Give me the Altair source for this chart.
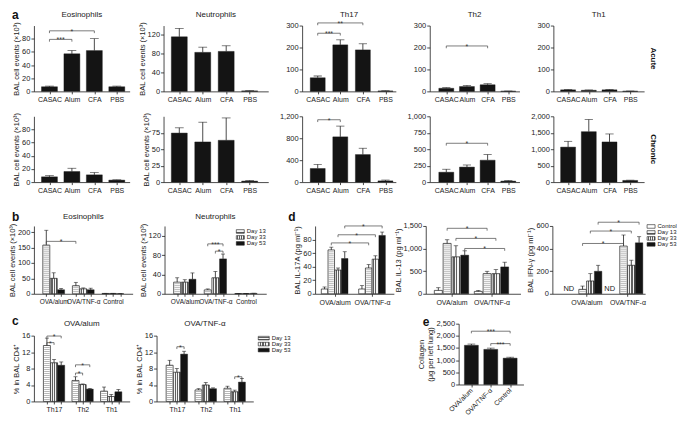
import json
import altair as alt
import pandas as pd

FONT = "Liberation Sans"
INK = "#1e1e1e"
BLACK = "#141414"
TXT = "#222222"

# ---------------- data ----------------
A_CATS = ["CASAC", "Alum", "CFA", "PBS"]

ACUTE_EOS, ACUTE_EOS_ERR = [7, 57, 62, 7], [1, 5, 18, 1]
ACUTE_NEU, ACUTE_NEU_ERR = [116, 83, 85, 1], [18, 11, 12, 0.5]
ACUTE_TH17, ACUTE_TH17_ERR = [62, 212, 189, 2], [8, 23, 28, 1]
ACUTE_TH2, ACUTE_TH2_ERR = [14, 22, 30, 1], [3, 5, 5, 0.5]
ACUTE_TH1, ACUTE_TH1_ERR = [7, 5, 7, 1], [1.5, 1.5, 1.5, 0.5]

CHRON_EOS, CHRON_EOS_ERR = [8, 16, 11, 3], [1.8, 5, 3.5, 0.5]
CHRON_NEU, CHRON_NEU_ERR = [74.5, 61, 63.5, 1.5], [8, 30, 34, 1]
CHRON_TH17, CHRON_TH17_ERR = [248, 825, 502, 22], [75, 196, 115, 15]
CHRON_TH2, CHRON_TH2_ERR = [150, 228, 333, 15], [45, 32, 85, 8]
CHRON_TH1, CHRON_TH1_ERR = [1063, 1532, 1220, 50], [176, 370, 243, 8]

B_GROUPS = ["OVA/alum", "OVA/TNF-α", "Control"]
DAYS3 = ["Day 13", "Day 33", "Day 53"]
B_EOS = [[158, 26, 1], [50, 16, 1], [13, 13, 0.5]]
B_EOS_ERR = [[48, 11, 0.3], [18, 3, 0.3], [4, 5, 0.3]]
B_NEU = [[24, 8, 0.5], [24, 33, 0.5], [30, 72, 0.8]]
B_NEU_ERR = [[9, 2, 0.2], [5, 13, 0.2], [13, 10, 0.3]]

C_GROUPS = ["Th17", "Th2", "Th1"]
C_ALUM = [[13.6, 5.1, 2.5], [9.4, 4.1, 1.2], [8.8, 3.0, 2.35]]
C_ALUM_ERR = [[1.8, 0.9, 1.0], [0.8, 0.15, 0.5], [0.8, 0.15, 0.55]]
C_TNF = [[8.8, 2.8, 3.2], [7.1, 4.0, 2.35], [11.5, 3.1, 4.7]]
C_TNF_ERR = [[1.2, 0.3, 0.5], [0.9, 0.6, 0.4], [0.7, 0.2, 0.9]]

D_GROUPS = ["OVA/alum", "OVA/TNF-α"]
DAYS4 = ["Control", "Day 13", "Day 33", "Day 53"]
D_IL17 = [[7, 7], [64.7, 38], [35, 51], [52, 86]]
D_IL17_ERR = [[3, 5], [4, 5], [3, 5], [10, 5]]
D_IL13 = [[74, 52], [1114, 445], [817, 445], [854, 594]]
D_IL13_ERR = [[60, 22], [81, 52], [245, 89], [96, 104]]
D_IFN = [[None, None], [39, 422], [113, 252], [199, 451]]
D_IFN_ERR = [[0, 0], [29, 98], [65, 45], [53, 54]]

E_CATS = ["OVA/alum", "OVA/TNF-α", "Control"]
E_COLLAGEN = [1611, 1443, 1082]
E_COLLAGEN_ERR = [51, 52, 39]

# significance brackets: ((group, series), (group, series), level, label)
SIG_ACUTE_EOS = [((0, 0), (1, 0), 79, "***"), ((0, 0), (2, 0), 92, "*")]
SIG_ACUTE_TH17 = [((0, 0), (1, 0), 265, "***"), ((0, 0), (2, 0), 312, "**")]
SIG_ACUTE_TH2 = [((0, 0), (2, 0), 207, "*")]
SIG_CHRON_TH17 = [((0, 0), (1, 0), 1137, "*")]
SIG_CHRON_TH2 = [((0, 0), (2, 0), 590, "*")]
SIG_B_EOS = [((0, 0), (1, 0), 170, "*")]
SIG_B_NEU = [((1, 0), (1, 2), 103, "***"), ((1, 1), (1, 2), 88, "*")]
SIG_C_ALUM = [((0, 0), (0, 1), 14.3, "*"), ((0, 0), (0, 2), 15.9, "*"),
              ((1, 0), (1, 1), 6.9, "*"), ((1, 0), (1, 2), 8.9, "*")]
SIG_C_TNF = [((0, 1), (0, 2), 13.3, "*"), ((2, 1), (2, 2), 6.0, "*")]
SIG_IL17 = [((0, 1), (1, 1), 75, "*"), ((0, 2), (1, 2), 87, "*"), ((0, 3), (1, 3), 100, "*")]
SIG_IL13 = [((0, 1), (1, 1), 1448, "*"), ((0, 2), (1, 2), 1225, "*"), ((0, 3), (1, 3), 1002, "*")]
SIG_IFN = [((0, 1), (1, 1), 445, "*"), ((0, 2), (1, 2), 555, "*"), ((0, 3), (1, 3), 633, "*")]
SIG_E = [((0, 0), (2, 0), 2190, "***"), ((1, 0), (2, 0), 1680, "***")]


# ---------------- styling helpers ----------------
def stripes(vertical_lines=True, n=4, dark="#5f5f5f", light="#f4f4f4"):
    stops = []
    for i in range(n):
        a, b, c = i / n, (i + 0.5) / n, (i + 1) / n
        stops += [{"offset": a, "color": light}, {"offset": b, "color": light},
                  {"offset": b, "color": dark}, {"offset": c, "color": dark}]
    if vertical_lines:
        return {"gradient": "linear", "x1": 0, "y1": 0, "x2": 1, "y2": 0, "stops": stops}
    return {"gradient": "linear", "x1": 0, "y1": 0, "x2": 0, "y2": 1, "stops": stops}


DUMMY = pd.DataFrame({"k": [0]})


def note(text, x, y, size=8, bold=False, angle=0, align="left", baseline="alphabetic", opacity=1.0):
    kw = dict(text=text, fontSize=size, font=FONT, color=TXT, align=align, baseline=baseline, opacity=opacity)
    if bold:
        kw["fontWeight"] = "bold"
        kw["color"] = "#111"
    if angle:
        kw["angle"] = angle
    return alt.Chart(DUMMY).mark_text(**kw).encode(x=alt.value(x), y=alt.value(y))


def legend(labels, styles, x0, y0, pitch, sw_w, sw_h, fs=6):
    out = []
    for i, (lab, st) in enumerate(zip(labels, styles)):
        yc = y0 + i * pitch
        if st == "solid":
            fill = BLACK
        elif st == "white":
            fill = "white"
        elif st == "h":
            fill = stripes(False, n=2)
        else:
            fill = stripes(True, n=4)
        d = alt.Chart(pd.DataFrame({"lab": [lab]}))
        out.append(d.mark_rect(fill=fill, stroke=INK, strokeWidth=0.6).encode(
            x=alt.value(x0), x2=alt.value(x0 + sw_w),
            y=alt.value(yc - sw_h / 2), y2=alt.value(yc + sw_h / 2)))
        out.append(d.mark_text(align="left", baseline="middle", fontSize=fs, font=FONT, color=TXT).encode(
            x=alt.value(x0 + sw_w + 2.5), y=alt.value(yc), text="lab:N"))
    return out


def spacer(w, h=1):
    return alt.Chart(DUMMY).mark_point(size=1, opacity=0).encode(
        x=alt.value(0), y=alt.value(0)).properties(width=w, height=h)


def panel(groups, vals, errs, styles, xdom, step, bar_w, ydom, yticks, width, height,
          title="", title_y=-9, ytitle=None, sig=(), ticks_all=False, label_angle=0,
          extra=(), nd=False, ytop=0, xfs=7):
    n = len(vals)
    c = (n - 1) / 2

    def pos(g, s):
        return g + (s - c) * step

    rows, nd_rows = [], []
    for s, (vs, es) in enumerate(zip(vals, errs)):
        for g, (v, e) in enumerate(zip(vs, es)):
            if v is None:
                nd_rows.append({"g": g, "s": s, "z": 0})
                continue
            rows.append({"g": g, "s": s, "v": v, "top": v + e})
    df = pd.DataFrame(rows)

    xs = alt.Scale(domain=list(xdom), nice=False, zero=False)
    if ytop:
        ys = alt.Scale(domain=list(ydom), nice=False, zero=False, range=[height, ytop])
    else:
        ys = alt.Scale(domain=list(ydom), nice=False, zero=False)
    plot_h = height - ytop
    if ticks_all:
        xvals = sorted({pos(g, s) for g in range(len(groups)) for s in range(n)})
    else:
        xvals = list(range(len(groups)))
    names = json.dumps(groups, ensure_ascii=False)
    lexpr = f"abs(datum.value - round(datum.value)) < 0.001 ? {names}[round(datum.value)] : ''"
    xkw = dict(values=xvals, labelExpr=lexpr, title=None, tickSize=2.5, labelPadding=2,
               labelOverlap=False, labelFontSize=xfs)
    if label_angle:
        xkw.update(labelAngle=label_angle, labelAlign="right", labelBaseline="middle")
    xaxis = alt.Axis(**xkw)
    yaxis = alt.Axis(values=list(yticks), format=",.0f", title=ytitle, labelOverlap=False)

    def X(f):
        return alt.X(f, type="quantitative", scale=xs, axis=xaxis)

    def Y(f):
        return alt.Y(f, type="quantitative", scale=ys, axis=yaxis)

    base = alt.Chart(df).transform_calculate(pos=f"datum.g + (datum.s - {c}) * {step}")
    layers = []
    for s, st in enumerate(styles):
        b = base.transform_filter(f"datum.s == {s}")
        if st == "solid":
            mk = b.mark_bar(width=bar_w, fill=BLACK, stroke=BLACK, strokeWidth=0.4)
        elif st == "v":
            mk = b.mark_bar(width=bar_w, fill=stripes(True, n=3), stroke=INK, strokeWidth=0.7)
        else:
            mk = b.mark_bar(width=bar_w, fill="white", stroke=INK, strokeWidth=0.7)
        layers.append(mk.encode(x=X("pos"), y=Y("v"), y2=alt.datum(0)))
        if st == "h":
            stp = (ydom[1] - ydom[0]) / plot_h * 2.0
            layers.append(
                b.transform_calculate(stripe=f"sequence({stp}, datum.v, {stp})")
                .transform_flatten(["stripe"])
                .mark_tick(orient="horizontal", size=max(bar_w - 1.5, 2), thickness=0.6, color="#555")
                .encode(x=X("pos"), y=Y("stripe")))
    cap = max(bar_w * 0.55, 4)
    layers.append(base.mark_rule(color=INK, strokeWidth=0.8).encode(x=X("pos"), y=Y("v"), y2=alt.Y2("top")))
    layers.append(base.mark_tick(orient="horizontal", size=cap, thickness=0.8, color=INK)
                  .encode(x=X("pos"), y=Y("top")))

    if sig:
        drop = (ydom[1] - ydom[0]) * 0.035
        brows = []
        for (g1, s1), (g2, s2), lvl, lab in sig:
            x1, x2 = pos(g1, s1), pos(g2, s2)
            brows.append({"x1": x1, "x2": x2, "xm": (x1 + x2) / 2, "y": lvl, "yd": lvl - drop, "lab": lab})
        bd = alt.Chart(pd.DataFrame(brows))
        layers.append(bd.mark_rule(color="#444", strokeWidth=0.7).encode(x=X("x1"), x2=alt.X2("x2"), y=Y("y")))
        layers.append(bd.mark_rule(color="#444", strokeWidth=0.7).encode(x=X("x1"), y=Y("y"), y2=alt.Y2("yd")))
        layers.append(bd.mark_rule(color="#444", strokeWidth=0.7).encode(x=X("x2"), y=Y("y"), y2=alt.Y2("yd")))
        layers.append(bd.mark_text(fontSize=7, font=FONT, color="#333", baseline="alphabetic", dy=3)
                      .encode(x=X("xm"), y=Y("y"), text="lab:N"))

    if nd and nd_rows:
        ndd = pd.DataFrame(nd_rows)
        layers.append(alt.Chart(ndd).transform_calculate(pos=f"datum.g + (datum.s - {c}) * {step}")
                      .mark_text(text="ND", fontSize=7.5, font=FONT, color=TXT, baseline="bottom", dx=-6, dy=-1)
                      .encode(x=X("pos"), y=Y("z")))

    if title:
        layers.append(note(title, width / 2, ytop + title_y, size=8, align="center"))
    layers.extend(extra)
    return alt.layer(*layers).properties(width=width, height=height)


BAL = "BAL cell events (×10³)"
H1, H2, H3, HE, HC = 66, 66, 68, 61, 66
CTOP = 12
A_W = [96, 105, 94, 90, 91]
A_XD = [(-0.47, 3.35), (-0.46, 3.58), (-0.47, 3.24), (-0.56, 3.3), (-0.47, 3.43)]
A_BW = [16, 16, 15, 15, 15]
LX = -22

acute = [
    panel(A_CATS, [ACUTE_EOS], [ACUTE_EOS_ERR], ["solid"], A_XD[0], 0, A_BW[0], (0, 100), [0, 20, 40, 60, 80],
          A_W[0], H1, "Eosinophils", ytitle=BAL, sig=SIG_ACUTE_EOS,
          extra=[note("a", LX, -7, size=12, bold=True)]),
    panel(A_CATS, [ACUTE_NEU], [ACUTE_NEU_ERR], ["solid"], A_XD[1], 0, A_BW[1], (0, 140), [0, 40, 80, 120],
          A_W[1], H1, "Neutrophils", ytitle=BAL),
    panel(A_CATS, [ACUTE_TH17], [ACUTE_TH17_ERR], ["solid"], A_XD[2], 0, A_BW[2], (0, 300), [0, 100, 200, 300],
          A_W[2], H1, "Th17", sig=SIG_ACUTE_TH17),
    panel(A_CATS, [ACUTE_TH2], [ACUTE_TH2_ERR], ["solid"], A_XD[3], 0, A_BW[3], (0, 300), [0, 100, 200, 300],
          A_W[3], H1, "Th2", sig=SIG_ACUTE_TH2),
    panel(A_CATS, [ACUTE_TH1], [ACUTE_TH1_ERR], ["solid"], A_XD[4], 0, A_BW[4], (0, 300), [0, 100, 200, 300],
          A_W[4], H1, "Th1",
          extra=[note("Acute", A_W[4] + 9, H1 / 2, size=8, bold=True, angle=90, align="center", baseline="middle")]),
]
chronic = [
    panel(A_CATS, [CHRON_EOS], [CHRON_EOS_ERR], ["solid"], A_XD[0], 0, A_BW[0], (0, 100), [0, 20, 40, 60, 80],
          A_W[0], H2, ytitle=BAL, extra=[note("a", LX, 10, size=12, bold=True, opacity=0)]),
    panel(A_CATS, [CHRON_NEU], [CHRON_NEU_ERR], ["solid"], A_XD[1], 0, A_BW[1], (0, 100), [0, 25, 50, 75],
          A_W[1], H2, ytitle=BAL),
    panel(A_CATS, [CHRON_TH17], [CHRON_TH17_ERR], ["solid"], A_XD[2], 0, A_BW[2], (0, 1200), [0, 400, 800, 1200],
          A_W[2], H2, sig=SIG_CHRON_TH17),
    panel(A_CATS, [CHRON_TH2], [CHRON_TH2_ERR], ["solid"], A_XD[3], 0, A_BW[3], (0, 1000), [0, 250, 500, 750, 1000],
          A_W[3], H2, sig=SIG_CHRON_TH2),
    panel(A_CATS, [CHRON_TH1], [CHRON_TH1_ERR], ["solid"], A_XD[4], 0, A_BW[4], (0, 2000), [0, 500, 1000, 1500, 2000],
          A_W[4], H2,
          extra=[note("Chronic", A_W[4] + 9, H2 / 2, size=8, bold=True, angle=90, align="center", baseline="middle")]),
]

S3 = ["h", "v", "solid"]
S4 = ["white", "h", "v", "solid"]

b_eos = panel(B_GROUPS, B_EOS, B_EOS_ERR, S3, (-0.5, 2.5), 0.25, 7, (0, 220), [0, 50, 100, 150, 200],
              99, H3, "Eosinophils", title_y=-7, ytitle=BAL, sig=SIG_B_EOS, ticks_all=True, xfs=6.5,
              extra=[note("b", LX, -5, size=12, bold=True)])
b_neu = panel(B_GROUPS, B_NEU, B_NEU_ERR, S3, (-0.5, 2.5), 0.25, 7, (0, 140), [0, 40, 80, 120],
              102, H3, "Neutrophils", title_y=-7, ytitle=BAL, sig=SIG_B_NEU, ticks_all=True, xfs=6.5,
              extra=legend(DAYS3, S3, 72, 5.5, 6, 8, 3.6))
d_il17 = panel(D_GROUPS, D_IL17, D_IL17_ERR, S4, (-0.39, 1.45), 0.18, 6.5, (0, 100), [0, 20, 40, 60, 80],
               79, H3, ytitle="BAL IL-17A (pg ml⁻¹)", sig=SIG_IL17,
               extra=[note("d", -27, -5, size=12, bold=True)])
d_il13 = panel(D_GROUPS, D_IL13, D_IL13_ERR, S4, (-0.52, 1.6), 0.22, 8, (0, 1500), [0, 500, 1000, 1500],
               95, H3, ytitle="BAL IL-13 (pg ml⁻¹)", sig=SIG_IL13)
d_ifn = panel(D_GROUPS, D_IFN, D_IFN_ERR, S4, (-0.71, 1.31), 0.19, 7.5, (0, 600), [0, 200, 400, 600],
              93, H3, ytitle="BAL IFN-γ (pg ml⁻¹)", sig=SIG_IFN, nd=True,
              extra=legend(DAYS4, S4, 95, 0.5, 6, 8, 3.6))

c_alum = panel(C_GROUPS, C_ALUM, C_ALUM_ERR, S3, (-0.53, 2.47), 0.25, 7, (0, 16), [0, 4, 8, 12, 16],
               96, HC + CTOP, "OVA/alum", title_y=-10, ytitle="% in BAL CD4⁺", sig=SIG_C_ALUM, ticks_all=True,
               ytop=CTOP, extra=[note("c", LX, CTOP - 11, size=12, bold=True)])
c_tnf = panel(C_GROUPS, C_TNF, C_TNF_ERR, S3, (-0.53, 2.47), 0.25, 7, (0, 16), [0, 4, 8, 12, 16],
              97, HC + CTOP, "OVA/TNF-α", title_y=-10, ytitle="% in BAL CD4⁺", sig=SIG_C_TNF, ticks_all=True,
              ytop=CTOP, extra=legend(DAYS3, S3, 102, CTOP + 2.5, 6, 11, 3.6))
e_col = panel(E_CATS, [E_COLLAGEN], [E_COLLAGEN_ERR], ["solid"], (-0.4, 2.43), 0, 14, (0, 2500),
              [0, 500, 1000, 1500, 2000, 2500], 65, HE, ytitle=["Collagen", "(μg per left lung)"],
              sig=SIG_E, label_angle=315, xfs=6.8,
              extra=[note("e", -36, 2, size=12, bold=True)])

row1 = alt.hconcat(*acute, spacing=34, bounds="flush")
row2 = alt.hconcat(*chronic, spacing=34, bounds="flush")
row3 = alt.hconcat(b_eos, spacer(32), b_neu, spacer(49), d_il17, spacer(32), d_il13, spacer(32), d_ifn,
                   spacing=0, bounds="flush")
row4 = alt.hconcat(c_alum, spacer(27), c_tnf, spacer(206), e_col, spacing=0, bounds="flush")

top = alt.vconcat(row1, row2, spacing=9)
bottom = alt.vconcat(row3, row4, spacing=9)

chart = alt.vconcat(top, bottom, spacing=17).properties(
    padding=0, background="white"
).configure(font=FONT).configure_view(stroke=None).configure_axis(
    grid=False, domainColor=INK, domainWidth=0.8, tickColor=INK, tickWidth=0.8, tickSize=3,
    labelFont=FONT, labelFontSize=7.5, labelColor=TXT, labelPadding=1,
    titleFont=FONT, titleFontSize=7.5, titleFontWeight="normal", titleColor=TXT, titlePadding=1,
)

chart.save("out.html", embed_options={"renderer": "svg", "actions": False})
